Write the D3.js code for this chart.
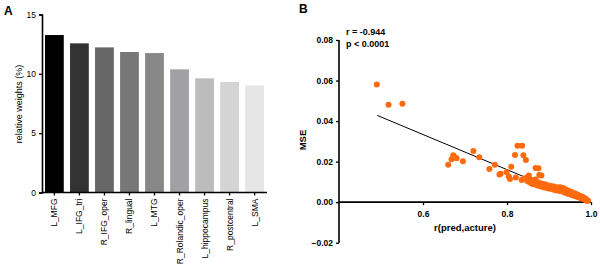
<!DOCTYPE html>
<html><head><meta charset="utf-8">
<script src="https://cdn.jsdelivr.net/npm/d3@7"></script>
<style>body{margin:0;background:#fff}svg{display:block;font-family:"Liberation Sans",Arial,sans-serif}</style>
</head><body><svg id="c" width="600" height="273"></svg>
<script>
// Panel A data
const regions = ["L_MFG","L_IFG_tri","R_IFG_oper","R_lingual","L_MTG","R_Rolandic_oper","L_hippocampus","R_postcentral","L_SMA"];
const weights = [13.27,12.57,12.23,11.84,11.75,10.38,9.62,9.31,9.03];
const barColors = ["#000000","#333333","#666666","#777777","#878787","#a1a1a5","#bcbcbc","#d4d4d4","#e6e6e6"];
const yTicksA = [0,5,10,15];
// Panel B data
const rVals = [0.490,0.518,0.551,0.660,0.672,0.676,0.668,0.680,0.695,0.720,0.734,0.758,0.771,0.782,0.785,0.799,0.804,0.807,0.810,0.819,0.825,0.836,0.839,0.845,0.821,0.835,0.852,0.868,0.875,0.877,0.882,
0.842,0.848,0.850,0.853,0.856,0.858,0.861,0.863,0.866,0.868,0.870,0.872,0.875,0.877,0.880,0.882,0.885,0.887,0.890,0.892,0.895,0.897,0.900,0.902,0.905,0.907,0.910,0.912,0.915,0.917,0.920,0.922,0.925,0.927,0.930,0.932,0.934,0.936,0.938,0.940,0.943,0.945,0.947,0.950,0.952,0.954,0.957,0.959,0.961,0.964,0.966,0.968,0.971,0.973,0.975,0.977,0.979,0.981,0.983,0.985,0.987,0.989,0.991,0.993];
const mseVals = [0.0581,0.0480,0.0486,0.0185,0.0232,0.0222,0.0212,0.0217,0.0202,0.0252,0.0222,0.0164,0.0184,0.0136,0.0140,0.0147,0.0126,0.0114,0.0175,0.0233,0.0278,0.0278,0.0232,0.0208,0.0122,0.0109,0.0131,0.0169,0.0167,0.0134,0.0131,
0.0118,0.0105,0.0125,0.0100,0.0112,0.0092,0.0106,0.0088,0.0100,0.0112,0.0090,0.0082,0.0097,0.0086,0.0077,0.0092,0.0083,0.0073,0.0088,0.0078,0.0069,0.0084,0.0075,0.0066,0.0080,0.0070,0.0062,0.0077,0.0067,0.0058,0.0073,0.0063,0.0055,0.0074,0.0063,0.0052,0.0070,0.0058,0.0047,0.0062,0.0052,0.0042,0.0056,0.0046,0.0037,0.0050,0.0040,0.0032,0.0044,0.0034,0.0027,0.0038,0.0029,0.0022,0.0031,0.0023,0.0017,0.0025,0.0017,0.0012,0.0018,0.0010,0.0006,0.0008];
const fitX = [0.491,0.99];
const fitY = [0.0428,-0.0004];
const xTicksB = [0.6,0.8,1.0];
const yTicksB = [-0.02,0.00,0.02,0.04,0.06,0.08];

const svg = d3.select("#c");

// ---- Panel A ----
const xA = d3.scaleBand().domain(regions).range([42,267]).paddingInner(0.25).paddingOuter(0.12);
const yA = d3.scaleLinear().domain([0,15]).range([192.5,14.5]);
const gA = svg.append("g");
gA.selectAll("rect").data(regions).join("rect")
  .attr("x", d=>xA(d)).attr("width", xA.bandwidth())
  .attr("y", (d,i)=>yA(weights[i])).attr("height", (d,i)=>yA(0)-yA(weights[i]))
  .attr("fill", (d,i)=>barColors[i]);
const axLA = gA.append("g").attr("transform","translate(42,0)")
  .call(d3.axisLeft(yA).tickValues(yTicksA).tickSize(3).tickPadding(3));
const axBA = gA.append("g").attr("transform","translate(0,192.5)")
  .call(d3.axisBottom(xA).tickSize(3).tickPadding(3));
[axLA,axBA].forEach(a=>{a.select(".domain").attr("stroke","#000").attr("stroke-width",1.6);
  a.selectAll(".tick line").attr("stroke","#000").attr("stroke-width",1.3);
  a.selectAll("text").attr("font-size",8.5).attr("fill","#000").attr("font-family","Liberation Sans, Arial");});
axBA.select(".domain").attr("d","M42,0H267");
axBA.selectAll(".tick text").attr("transform","rotate(-90)").attr("text-anchor","end")
  .attr("x",-6).attr("y",0).attr("dy","0.35em");
gA.append("text").attr("transform","translate(22,104) rotate(-90)").attr("text-anchor","middle")
  .attr("font-size",9).text("relative weights (%)");
svg.append("text").attr("x",4).attr("y",15).attr("font-size",12).attr("font-weight","bold").text("A");

// ---- Panel B ----
const xB = d3.scaleLinear().domain([0.4,1.0]).range([339,591]);
const yB = d3.scaleLinear().domain([-0.02,0.08]).range([242.7,40]);
const gB = svg.append("g");
const axLB = gB.append("g").attr("transform","translate(339,0)")
  .call(d3.axisLeft(yB).tickValues(yTicksB).tickFormat(d3.format(".2f")).tickSize(3).tickPadding(3));
const axBB = gB.append("g").attr("transform",`translate(0,${yB(0)})`)
  .call(d3.axisBottom(xB).tickValues(xTicksB).tickFormat(d3.format(".1f")).tickSize(3).tickPadding(6));
[axLB,axBB].forEach(a=>{a.select(".domain").attr("stroke","#000").attr("stroke-width",1.6);
  a.selectAll(".tick line").attr("stroke","#000").attr("stroke-width",1.3);
  a.selectAll("text").attr("font-size",8.5).attr("font-weight","bold").attr("fill","#000").attr("font-family","Liberation Sans, Arial");});
axLB.select(".domain").attr("d","M0,40V242.7");
axBB.select(".domain").attr("d","M339,0H591");
gB.append("line").attr("x1",xB(fitX[0])).attr("y1",yB(fitY[0])).attr("x2",xB(fitX[1])).attr("y2",yB(fitY[1]))
  .attr("stroke","#000").attr("stroke-width",1);
gB.selectAll("circle").data(rVals).join("circle")
  .attr("cx",d=>xB(d)).attr("cy",(d,i)=>yB(mseVals[i])).attr("r",3).attr("fill","#ff6a0e");
gB.append("text").attr("transform","translate(306,140) rotate(-90)").attr("text-anchor","middle")
  .attr("font-size",9.5).attr("font-weight","bold").text("MSE");
gB.append("text").attr("x",465).attr("y",231).attr("text-anchor","middle")
  .attr("font-size",9.5).attr("font-weight","bold").text("r(pred,acture)");
gB.append("text").attr("x",346).attr("y",35).attr("font-size",9).attr("font-weight","bold").text("r = -0.944");
gB.append("text").attr("x",346).attr("y",47).attr("font-size",9).attr("font-weight","bold").text("p < 0.0001");
svg.append("text").attr("x",299).attr("y",13).attr("font-size",12).attr("font-weight","bold").text("B");
</script></body></html>
